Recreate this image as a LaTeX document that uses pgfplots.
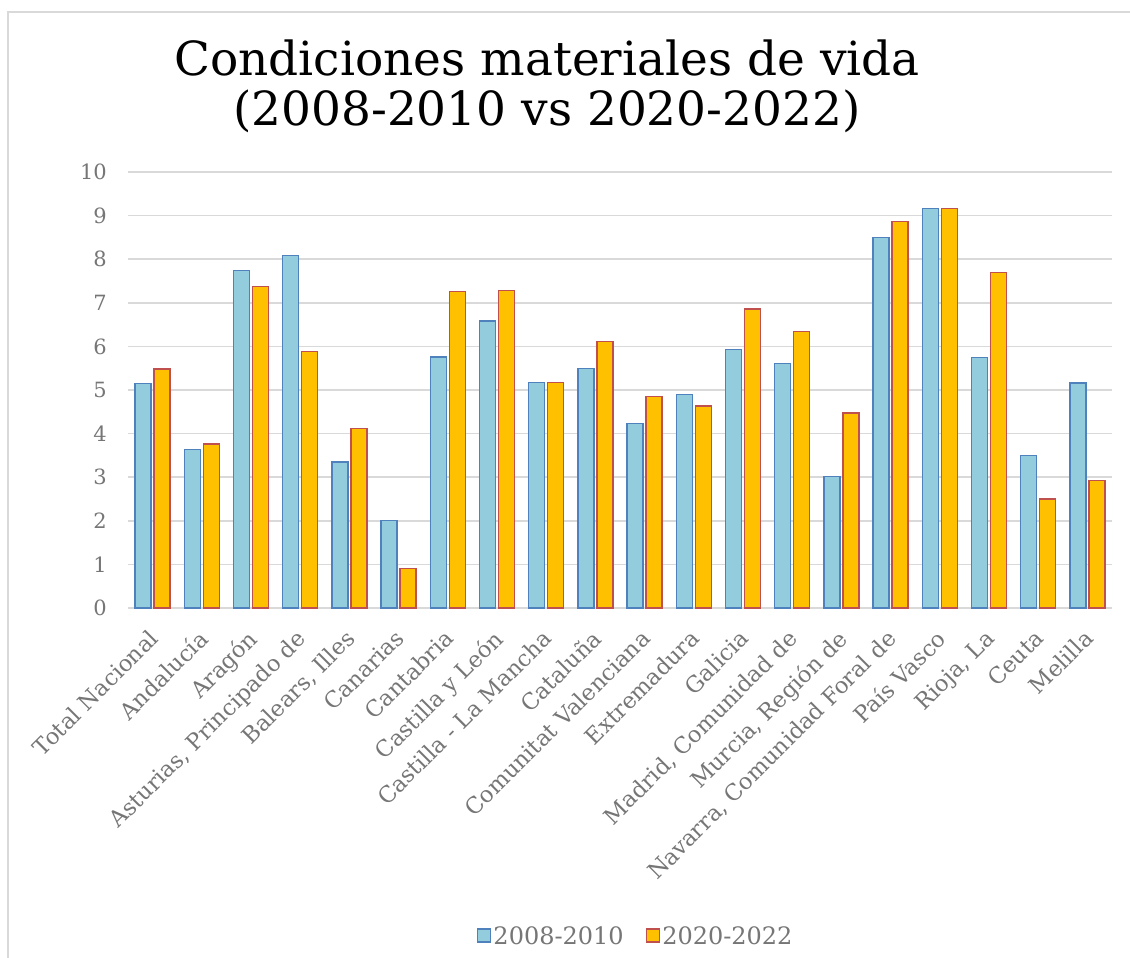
\documentclass[border=0pt]{standalone}
\usepackage{pgfplots}
\pgfplotsset{compat=1.18}
\usepackage{fontspec}
\setmainfont{DejaVu Serif}

\definecolor{bluefill}{RGB}{147,205,221}
\definecolor{blueedge}{RGB}{79,129,189}
\definecolor{orangefill}{RGB}{255,192,0}
\definecolor{orangeedge}{RGB}{192,80,77}
\definecolor{txtgray}{RGB}{118,118,118}
\definecolor{gridgray}{RGB}{217,217,217}

\begin{document}
\begin{tikzpicture}
\path[use as bounding box] (0pt,0pt) rectangle (1130pt,-958pt);
\fill[white] (0pt,0pt) rectangle (1130pt,-958pt);
\draw[gridgray, line width=1.5pt] (8pt,-958pt) -- (8pt,-12pt) -- (1130pt,-12pt);

\node[align=center, font=\fontsize{47}{50}\selectfont, text=black] at (547pt,-86pt)
  {Condiciones materiales de vida\\(2008-2010 vs 2020-2022)};

\begin{axis}[
    at={(128pt,-608pt)}, anchor=south west,
    scale only axis,
    width=984pt, height=436pt,
    xmin=-0.5, xmax=19.5,
    ymin=0, ymax=10,
    ytick={0,1,...,10},
    xtick=data,
    xticklabels={Total Nacional, Andalucía, Aragón, {Asturias, Principado de},
      {Balears, Illes}, Canarias, Cantabria, Castilla y León, Castilla - La Mancha,
      Cataluña, Comunitat Valenciana, Extremadura, Galicia, {Madrid, Comunidad de},
      {Murcia, Región de}, {Navarra, Comunidad Foral de}, País Vasco, {Rioja, La},
      Ceuta, Melilla},
    ybar=3pt,
    bar width=16pt,
    axis line style={draw=none},
    major tick length=0pt,
    ymajorgrids=true,
    grid style={gridgray, line width=1.5pt},
    tick label style={text=txtgray},
    yticklabel style={font=\fontsize{21}{24}\selectfont, anchor=east, inner sep=0pt, xshift=-21pt},
    xticklabel style={font=\fontsize{22.5}{24}\selectfont, inner sep=0pt, xshift=-5pt, yshift=-20pt, rotate=45, anchor=north east},
    /pgf/number format/assume math mode=true,
    legend columns=2,
    legend style={draw=none, fill=none, at={(0.516,-0.752)}, anchor=center,
      font=\fontsize{24}{26}\selectfont, text=txtgray,
      /tikz/every even column/.append style={column sep=20pt}},
    legend image code/.code={\draw[#1, line width=1.5pt] (0pt,-6pt) rectangle (13pt,7pt);},
]
\addplot[fill=bluefill, draw=blueedge, line width=1.3pt] coordinates {
    (0,5.15) (1,3.63) (2,7.74) (3,8.09) (4,3.35) (5,2.00) (6,5.76)
    (7,6.58) (8,5.17) (9,5.50) (10,4.23) (11,4.89) (12,5.93) (13,5.60)
    (14,3.02) (15,8.49) (16,9.16) (17,5.75) (18,3.49) (19,5.16)
};
\addlegendentry{2008-2010}
\addplot[fill=orangefill, draw=orangeedge, line width=1.3pt] coordinates {
    (0,5.48) (1,3.76) (2,7.37) (3,5.88) (4,4.11) (5,0.90) (6,7.26)
    (7,7.28) (8,5.18) (9,6.11) (10,4.85) (11,4.63) (12,6.86) (13,6.34)
    (14,4.47) (15,8.86) (16,9.17) (17,7.70) (18,2.50) (19,2.92)
};
\addlegendentry{2020-2022}
\end{axis}
\end{tikzpicture}
\end{document}
